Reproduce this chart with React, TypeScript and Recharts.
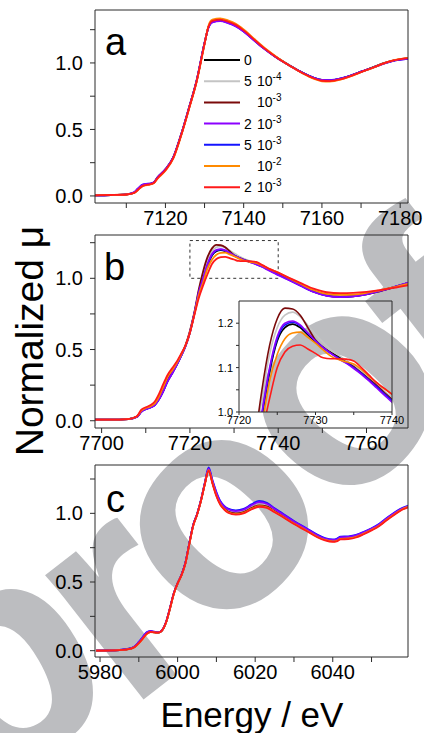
import { LineChart, Line, XAxis, YAxis, ReferenceArea } from 'recharts';

const FONT = '"Liberation Sans", Arial, Helvetica, sans-serif';
const FRAME = '#2a2a2a';

const SERIES_KEYS = ['s0', 's1', 's2', 's3', 's4', 's5', 's6'];
const SERIES_COLORS = ['#000000', '#c4c4c4', '#7a0a0a', '#8c00ff', '#1414ff', '#ff8a00', '#ff1a1a'];
const LEGEND_COEF = ['0', '5', '', '2', '5', '', '2'];
const LEGEND_EXP = ['', '-4', '-3', '-3', '-3', '-2', '-3'];
// which series goes on top: red last
const DRAW_ORDER = [0, 1, 2, 4, 3, 5, 6];

const Y_TICKS = [0, 0.25, 0.5, 0.75, 1.0, 1.25];
const Y_LABELS = [0, 0.5, 1.0];

// panel a
const aTicks = [7110, 7120, 7130, 7140, 7150, 7160, 7170, 7180];
const aEnergy = [7102, 7106, 7110, 7112, 7113, 7114, 7115, 7116, 7117, 7118, 7120, 7122, 7124, 7126, 7128, 7130, 7131, 7132, 7134, 7136, 7138, 7140, 7142, 7145, 7148, 7150, 7152, 7155, 7158, 7160, 7162, 7165, 7168, 7170, 7173, 7176, 7178, 7182];
const aBlack = [0.005, 0.007, 0.012, 0.025, 0.05, 0.075, 0.086, 0.09, 0.1, 0.14, 0.2, 0.29, 0.46, 0.66, 0.87, 1.15, 1.27, 1.31, 1.32, 1.305, 1.28, 1.24, 1.19, 1.115, 1.05, 1.012, 0.977, 0.927, 0.887, 0.872, 0.87, 0.884, 0.912, 0.934, 0.966, 1.0, 1.016, 1.034];
const aGray = [0.005, 0.007, 0.012, 0.026, 0.052, 0.077, 0.087, 0.09, 0.1, 0.14, 0.2, 0.29, 0.46, 0.66, 0.87, 1.15, 1.27, 1.312, 1.322, 1.307, 1.282, 1.242, 1.19, 1.114, 1.049, 1.01, 0.975, 0.925, 0.885, 0.87, 0.868, 0.882, 0.91, 0.932, 0.964, 0.998, 1.015, 1.033];
const aMaroon = [0.004, 0.006, 0.011, 0.024, 0.05, 0.075, 0.086, 0.089, 0.099, 0.138, 0.198, 0.288, 0.458, 0.658, 0.868, 1.148, 1.27, 1.312, 1.322, 1.306, 1.28, 1.24, 1.19, 1.114, 1.049, 1.01, 0.975, 0.925, 0.885, 0.869, 0.867, 0.882, 0.91, 0.933, 0.965, 0.999, 1.016, 1.034];
const aPurple = [0.004, 0.006, 0.012, 0.028, 0.056, 0.082, 0.09, 0.092, 0.101, 0.14, 0.2, 0.29, 0.46, 0.66, 0.87, 1.15, 1.265, 1.305, 1.315, 1.3, 1.275, 1.236, 1.186, 1.112, 1.048, 1.01, 0.975, 0.926, 0.887, 0.872, 0.87, 0.884, 0.912, 0.934, 0.964, 0.997, 1.014, 1.03];
const aBlue = [0.005, 0.007, 0.012, 0.028, 0.056, 0.083, 0.091, 0.093, 0.102, 0.14, 0.2, 0.29, 0.46, 0.66, 0.87, 1.15, 1.265, 1.306, 1.316, 1.301, 1.276, 1.237, 1.187, 1.113, 1.049, 1.011, 0.976, 0.927, 0.888, 0.873, 0.871, 0.885, 0.912, 0.934, 0.964, 0.997, 1.014, 1.03];
const aOrange = [0.005, 0.007, 0.011, 0.022, 0.045, 0.07, 0.08, 0.085, 0.095, 0.13, 0.19, 0.28, 0.45, 0.65, 0.86, 1.14, 1.28, 1.325, 1.335, 1.32, 1.295, 1.252, 1.2, 1.122, 1.054, 1.012, 0.975, 0.922, 0.88, 0.862, 0.86, 0.876, 0.906, 0.93, 0.963, 0.999, 1.018, 1.038];
const aRed = [0.005, 0.007, 0.011, 0.023, 0.047, 0.072, 0.082, 0.087, 0.097, 0.134, 0.194, 0.284, 0.454, 0.654, 0.864, 1.144, 1.272, 1.316, 1.326, 1.311, 1.286, 1.245, 1.194, 1.117, 1.051, 1.011, 0.975, 0.924, 0.883, 0.866, 0.864, 0.879, 0.908, 0.931, 0.964, 0.999, 1.017, 1.036];

// panel b
const bTicks = [7700, 7710, 7720, 7730, 7740, 7750, 7760];
const bEnergy = [7698, 7702, 7706, 7708, 7709, 7710, 7711, 7712, 7713, 7714, 7715, 7716, 7717, 7718, 7719, 7720, 7721, 7722, 7723, 7724, 7725, 7726, 7727, 7728, 7729, 7730, 7731, 7732, 7733, 7734, 7735, 7736, 7737, 7738, 7739, 7740, 7742, 7745, 7748, 7751, 7754, 7757, 7760, 7763, 7766, 7770];
const bBlack = [0.008, 0.008, 0.012, 0.028, 0.065, 0.083, 0.094, 0.11, 0.152, 0.212, 0.282, 0.335, 0.392, 0.455, 0.525,
  0.62, 0.75, 0.89, 0.99, 1.09, 1.16, 1.19, 1.198, 1.19, 1.174, 1.158, 1.145, 1.134, 1.125, 1.115, 1.104, 1.091, 1.076, 1.06, 1.045, 1.03,
  1.0, 0.955, 0.91, 0.882, 0.872, 0.876, 0.89, 0.912, 0.937, 0.972];
const bGray = [0.008, 0.008, 0.012, 0.029, 0.067, 0.085, 0.096, 0.112, 0.155, 0.216, 0.286, 0.338, 0.395, 0.458, 0.528,
  0.625, 0.755, 0.91, 1.03, 1.13, 1.19, 1.218, 1.225, 1.215, 1.195, 1.175, 1.157, 1.14, 1.128, 1.116, 1.105, 1.092, 1.078, 1.062, 1.047, 1.032,
  1.0, 0.954, 0.909, 0.881, 0.871, 0.875, 0.889, 0.911, 0.936, 0.97];
const bMaroon = [0.008, 0.008, 0.012, 0.029, 0.068, 0.086, 0.097, 0.113, 0.157, 0.219, 0.289, 0.34, 0.397, 0.46, 0.53,
  0.63, 0.76, 0.92, 1.05, 1.15, 1.21, 1.234, 1.232, 1.218, 1.19, 1.162, 1.146, 1.133, 1.122, 1.112, 1.102, 1.088, 1.074, 1.06, 1.044, 1.028,
  0.998, 0.952, 0.907, 0.879, 0.869, 0.873, 0.887, 0.909, 0.934, 0.968];
const bPurple = [0.008, 0.008, 0.012, 0.027, 0.063, 0.081, 0.092, 0.108, 0.15, 0.21, 0.28, 0.333, 0.39, 0.453, 0.523,
  0.62, 0.752, 0.9, 1.0, 1.1, 1.17, 1.2, 1.205, 1.196, 1.178, 1.16, 1.145, 1.132, 1.12, 1.11, 1.098, 1.085, 1.07, 1.054, 1.038, 1.022,
  0.993, 0.948, 0.904, 0.877, 0.868, 0.873, 0.888, 0.911, 0.937, 0.974];
const bBlue = [0.008, 0.008, 0.012, 0.027, 0.063, 0.081, 0.092, 0.108, 0.15, 0.21, 0.28, 0.333, 0.39, 0.453, 0.523,
  0.62, 0.75, 0.895, 0.995, 1.095, 1.165, 1.196, 1.202, 1.194, 1.177, 1.16, 1.145, 1.132, 1.121, 1.111, 1.1, 1.087, 1.072, 1.057, 1.041, 1.026,
  0.996, 0.95, 0.906, 0.879, 0.87, 0.874, 0.889, 0.911, 0.937, 0.973];
const bOrange = [0.008, 0.008, 0.012, 0.03, 0.072, 0.09, 0.101, 0.12, 0.17, 0.24, 0.31, 0.355, 0.405, 0.463, 0.528,
  0.62, 0.745, 0.88, 0.97, 1.07, 1.13, 1.165, 1.178, 1.18, 1.168, 1.155, 1.14, 1.126, 1.118, 1.113, 1.108, 1.096, 1.08, 1.066, 1.052, 1.04,
  1.008, 0.962, 0.918, 0.89, 0.883, 0.886, 0.898, 0.916, 0.936, 0.965];
const bRed = [0.008, 0.008, 0.012, 0.032, 0.078, 0.095, 0.108, 0.133, 0.188, 0.26, 0.325, 0.37, 0.415, 0.47, 0.53,
  0.618, 0.74, 0.86, 0.95, 1.03, 1.1, 1.135, 1.148, 1.151, 1.142, 1.132, 1.122, 1.12, 1.12, 1.119, 1.115, 1.1, 1.083, 1.066, 1.053, 1.04,
  1.01, 0.968, 0.927, 0.902, 0.896, 0.898, 0.905, 0.917, 0.932, 0.955];

// inset of panel b
const insetXTicks = [7720, 7725, 7730, 7735, 7740];
const insetYTicks = [1.0, 1.05, 1.1, 1.15, 1.2];

// panel c
const cTicks = [5980, 5990, 6000, 6010, 6020, 6030, 6040, 6050];
const cEnergy = [5979, 5985, 5988, 5989, 5990, 5991, 5992, 5993, 5994, 5995, 5996, 5997, 5998, 5999, 6000, 6001, 6002, 6003, 6004, 6005, 6006, 6007, 6008, 6009, 6010, 6011, 6012, 6013, 6015, 6017, 6019, 6021, 6023, 6025, 6027, 6030, 6033, 6036, 6038, 6040, 6041, 6042, 6044, 6046, 6048, 6050, 6052, 6054, 6056, 6058, 6060];
const cBlack = [0.0, 0.004, 0.016, 0.03, 0.058, 0.092, 0.126, 0.139, 0.135, 0.132, 0.148, 0.205, 0.305, 0.415, 0.49, 0.552, 0.638, 0.778, 0.912, 0.992, 1.092, 1.215, 1.318, 1.225, 1.138, 1.075, 1.042, 1.018, 1.004, 1.014, 1.043, 1.064, 1.056, 1.022, 0.987, 0.933, 0.886, 0.836, 0.812, 0.801, 0.805, 0.82, 0.823, 0.834, 0.857, 0.885, 0.916, 0.959, 0.999, 1.034, 1.054];
const cGray = [0.0, 0.004, 0.016, 0.03, 0.058, 0.092, 0.126, 0.139, 0.135, 0.132, 0.148, 0.205, 0.306, 0.416, 0.491, 0.552, 0.638, 0.778, 0.912, 0.992, 1.093, 1.216, 1.32, 1.227, 1.14, 1.077, 1.044, 1.02, 1.006, 1.016, 1.045, 1.066, 1.058, 1.024, 0.989, 0.935, 0.888, 0.838, 0.814, 0.803, 0.807, 0.822, 0.825, 0.836, 0.859, 0.887, 0.918, 0.961, 1.001, 1.036, 1.056];
const cMaroon = [0.0, 0.004, 0.015, 0.029, 0.057, 0.09, 0.124, 0.138, 0.134, 0.132, 0.148, 0.204, 0.304, 0.414, 0.49, 0.551, 0.636, 0.776, 0.91, 0.99, 1.09, 1.212, 1.314, 1.222, 1.134, 1.07, 1.037, 1.013, 0.999, 1.009, 1.038, 1.058, 1.05, 1.017, 0.983, 0.929, 0.882, 0.833, 0.809, 0.798, 0.802, 0.817, 0.82, 0.831, 0.854, 0.882, 0.913, 0.957, 0.997, 1.032, 1.052];
const cPurple = [0.0, 0.005, 0.017, 0.032, 0.062, 0.097, 0.131, 0.142, 0.137, 0.133, 0.149, 0.206, 0.306, 0.416, 0.49, 0.552, 0.638, 0.778, 0.912, 0.992, 1.093, 1.218, 1.325, 1.235, 1.15, 1.085, 1.05, 1.03, 1.016, 1.026, 1.058, 1.082, 1.07, 1.032, 0.995, 0.94, 0.891, 0.841, 0.816, 0.806, 0.81, 0.826, 0.829, 0.839, 0.861, 0.889, 0.921, 0.964, 1.004, 1.037, 1.058];
const cBlue = [0.0, 0.005, 0.018, 0.033, 0.064, 0.1, 0.134, 0.144, 0.138, 0.134, 0.15, 0.207, 0.307, 0.417, 0.491, 0.553, 0.64, 0.78, 0.914, 0.994, 1.095, 1.222, 1.335, 1.24, 1.155, 1.09, 1.055, 1.035, 1.022, 1.032, 1.065, 1.09, 1.077, 1.037, 1.0, 0.945, 0.895, 0.845, 0.82, 0.81, 0.815, 0.83, 0.833, 0.843, 0.865, 0.892, 0.925, 0.968, 1.008, 1.04, 1.062];
const cOrange = [0.0, 0.004, 0.015, 0.027, 0.053, 0.086, 0.12, 0.135, 0.133, 0.131, 0.147, 0.202, 0.3, 0.41, 0.488, 0.548, 0.632, 0.77, 0.905, 0.988, 1.088, 1.21, 1.315, 1.22, 1.13, 1.066, 1.032, 1.008, 0.994, 1.004, 1.032, 1.052, 1.044, 1.012, 0.979, 0.926, 0.879, 0.83, 0.807, 0.796, 0.8, 0.814, 0.817, 0.828, 0.852, 0.88, 0.912, 0.956, 0.996, 1.032, 1.052];
const cRed = [0.0, 0.004, 0.015, 0.028, 0.055, 0.088, 0.122, 0.136, 0.133, 0.131, 0.148, 0.205, 0.305, 0.415, 0.49, 0.55, 0.635, 0.775, 0.91, 0.99, 1.09, 1.21, 1.31, 1.215, 1.125, 1.062, 1.028, 1.004, 0.99, 1.0, 1.028, 1.048, 1.04, 1.008, 0.975, 0.922, 0.875, 0.826, 0.803, 0.792, 0.796, 0.81, 0.813, 0.824, 0.848, 0.876, 0.908, 0.952, 0.992, 1.028, 1.048];

// watermark letters: char, centre x, centre y, rotation
const WM_CHARS = ['p', 'r', 'o', 'o', 'f'];
const WM_X = [8, 125, 225, 347, 450];
const WM_Y = [680, 615, 526, 402, 337];
const WM_ROT = [-30, -38, -46, -50, -38];

const buildRows = (energy: number[], series: number[][]) =>
  energy.map((e, i) => {
    const row: Record<string, number> = { e };
    series.forEach((s, k) => {
      row[SERIES_KEYS[k]] = s[i];
    });
    return row;
  });

const aRows = buildRows(aEnergy, [aBlack, aGray, aMaroon, aPurple, aBlue, aOrange, aRed]);
const bRows = buildRows(bEnergy, [bBlack, bGray, bMaroon, bPurple, bBlue, bOrange, bRed]);
const cRows = buildRows(cEnergy, [cBlack, cGray, cMaroon, cPurple, cBlue, cOrange, cRed]);

const yLabel = (v: number) => (Y_LABELS.includes(v) ? v.toFixed(1) : '');
const xLabel = (v: number) => (v % 20 === 0 ? String(v) : '');

const seriesLines = (width: number) =>
  DRAW_ORDER.map((k) => (
    <Line
      key={SERIES_KEYS[k]}
      dataKey={SERIES_KEYS[k]}
      type="monotone"
      stroke={SERIES_COLORS[k]}
      strokeWidth={width}
      dot={false}
      activeDot={false}
      isAnimationActive={false}
    />
  ));

type PanelProps = {
  rows: Record<string, number>[];
  xDomain: [number, number];
  yDomain: [number, number];
  xTicks: number[];
  xHeight: number;
  children?: any;
};

// top and right axes only carry the inward ticks of the frame
function Panel({ rows, xDomain, yDomain, xTicks, xHeight, children }: PanelProps) {
  const tickStyle = { fontSize: 20, fill: '#000', fontFamily: FONT };
  return (
    <LineChart width={424} height={240} data={rows} margin={{ top: 9, right: 15, bottom: 0, left: 0 }}>
      <XAxis dataKey="e" type="number" domain={xDomain} allowDataOverflow ticks={xTicks} interval={0}
        tickFormatter={xLabel} tickSize={5} tickMargin={3} height={xHeight} stroke={FRAME} tick={tickStyle} />
      <XAxis xAxisId="top" orientation="top" dataKey="e" type="number" domain={xDomain} allowDataOverflow
        ticks={xTicks} interval={0} tick={false} tickSize={-5} height={1} stroke={FRAME} />
      <YAxis type="number" domain={yDomain} allowDataOverflow ticks={Y_TICKS} interval={0}
        tickFormatter={yLabel} width={95} tickSize={5} tickMargin={7} stroke={FRAME} tick={tickStyle} />
      <YAxis yAxisId="right" orientation="right" type="number" domain={yDomain} allowDataOverflow
        ticks={Y_TICKS} interval={0} tick={false} width={1} tickSize={-5} stroke={FRAME} />
      {children}
      {seriesLines(1.8)}
    </LineChart>
  );
}

function Inset() {
  const tickStyle = { fontSize: 11, fill: '#000', fontFamily: FONT };
  const domX: [number, number] = [7720, 7740];
  const domY: [number, number] = [1.0, 1.25];
  return (
    <LineChart width={220} height={140} data={bRows} margin={{ top: 5, right: 27, bottom: 0, left: 0 }}>
      <XAxis dataKey="e" type="number" domain={domX} allowDataOverflow ticks={insetXTicks} interval={0}
        tickFormatter={(v: number) => (v % 10 === 0 ? String(v) : '')} tickSize={3} tickMargin={1}
        height={23} stroke={FRAME} tick={tickStyle} />
      <XAxis xAxisId="top" orientation="top" dataKey="e" type="number" domain={domX} allowDataOverflow
        ticks={insetXTicks} interval={0} tick={false} tickSize={-3} height={1} stroke={FRAME} />
      <YAxis type="number" domain={domY} allowDataOverflow ticks={insetYTicks} interval={0}
        tickFormatter={(v: number) => ([1.0, 1.1, 1.2].includes(v) ? v.toFixed(1) : '')}
        width={39} tickSize={3} tickMargin={3} stroke={FRAME} tick={tickStyle} />
      <YAxis yAxisId="right" orientation="right" type="number" domain={domY} allowDataOverflow
        ticks={insetYTicks} interval={0} tick={false} width={1} tickSize={-3} stroke={FRAME} />
      {seriesLines(1.6)}
    </LineChart>
  );
}

function Legend() {
  return (
    <g fontFamily={FONT}>
      {SERIES_KEYS.map((k, i) => {
        const y = 60 + i * 21.2;
        return (
          <g key={k}>
            <line x1={204} x2={240} y1={y} y2={y} stroke={SERIES_COLORS[i]} strokeWidth={2} />
            <text y={y + 5} fontSize={14} fill="#000">
              {LEGEND_COEF[i] && <tspan x={244}>{LEGEND_COEF[i]}</tspan>}
              {LEGEND_EXP[i] && <tspan x={257}>10</tspan>}
              {LEGEND_EXP[i] && <tspan dy={-6} fontSize={10}>{LEGEND_EXP[i]}</tspan>}
            </text>
          </g>
        );
      })}
    </g>
  );
}

const abs = (left: number, top: number): any => ({ position: 'absolute', left, top });

export default function App() {
  return (
    <div style={{ position: 'absolute', left: 0, top: 0, width: 424, height: 733, background: '#fff', overflow: 'hidden' }}>
      <svg width={424} height={733} style={abs(0, 0)}>
        {WM_CHARS.map((ch, i) => (
          <text key={i} x={0} y={78} textAnchor="middle" fontFamily={FONT} fontWeight="bold" fontSize={300}
            fill="#bcbdc0" transform={`translate(${WM_X[i]},${WM_Y[i]}) rotate(${WM_ROT[i]})`}>
            {ch}
          </text>
        ))}
      </svg>
      <div style={abs(0, 0)}>
        <Panel rows={aRows} xDomain={[7102, 7182]} yDomain={[-0.053, 1.398]} xTicks={aTicks} xHeight={37} />
      </div>
      <div style={abs(0, 225)}>
        <Panel rows={bRows} xDomain={[7698.5, 7769.4]} yDomain={[-0.051, 1.304]} xTicks={bTicks} xHeight={37}>
          <ReferenceArea x1={7720} x2={7740} y1={1.0} y2={1.265} fill="#fff" fillOpacity={0}
            stroke="#333" strokeDasharray="3 3" strokeWidth={1} />
        </Panel>
      </div>
      <div style={abs(200, 295)}>
        <Inset />
      </div>
      <div style={abs(0, 455)}>
        <Panel rows={cRows} xDomain={[5978.7, 6059.4]} yDomain={[-0.046, 1.352]} xTicks={cTicks} xHeight={38} />
      </div>
      <svg width={424} height={733} style={{ ...abs(0, 0), pointerEvents: 'none' }}>
        <Legend />
        <g fontFamily={FONT} fill="#000">
          <text x={105} y={55} fontSize={38}>a</text>
          <text x={104} y={280} fontSize={38}>b</text>
          <text x={106} y={512} fontSize={38}>c</text>
          <text x={43} y={341} fontSize={39} textAnchor="middle" transform="rotate(-90 43 341)">Normalized μ</text>
          <text x={252} y={727} fontSize={35} textAnchor="middle">Energy / eV</text>
        </g>
      </svg>
    </div>
  );
}
